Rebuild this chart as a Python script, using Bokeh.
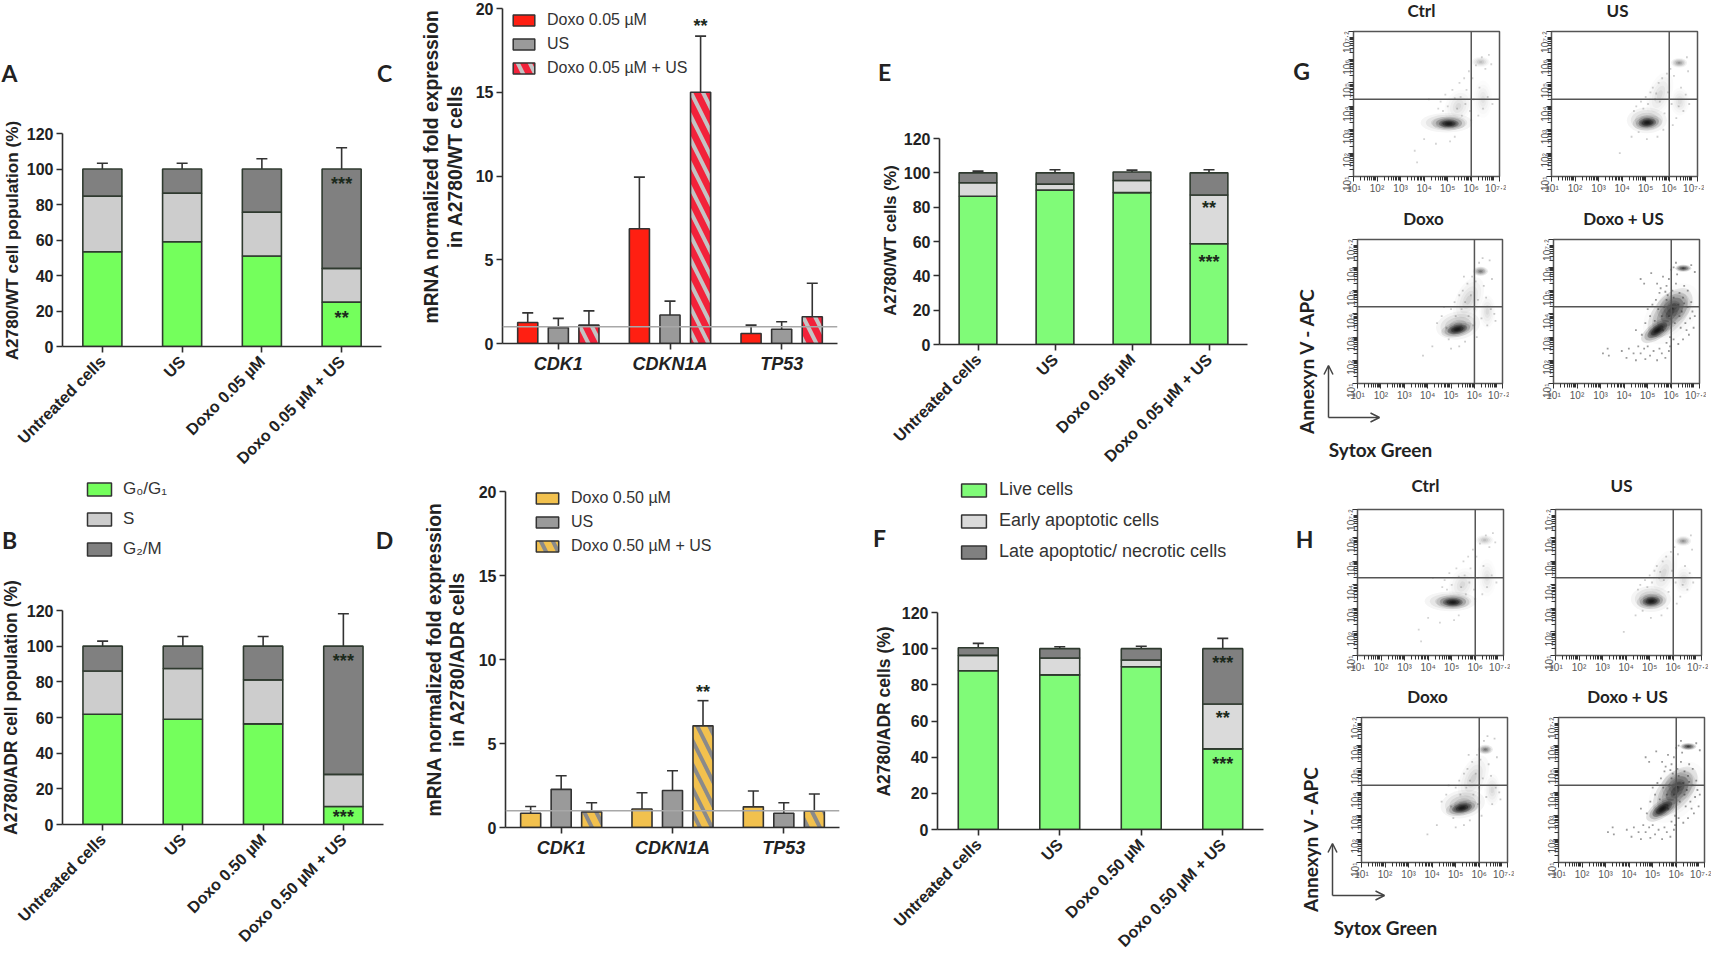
import math
import numpy as np
from bokeh.core.properties import value
from bokeh.plotting import figure
from bokeh.layouts import column
from bokeh.models import (ColumnDataSource, Whisker, TeeHead, FixedTicker, Range1d, Legend, LegendItem,
                          Span, Arrow, OpenHead)
from bokeh.embed import file_html
from bokeh.resources import INLINE

# ------------------------------------------------------------------ data
TREAT_005 = ["Untreated cells", "US", "Doxo 0.05 µM", "Doxo 0.05 µM + US"]
TREAT_050 = ["Untreated cells", "US", "Doxo 0.50 µM", "Doxo 0.50 µM + US"]
GENES = ["CDK1", "CDKN1A", "TP53"]
PHASES = ["G₀/G₁", "S", "G₂/M"]
DEATH = ["Live cells", "Early apoptotic cells", "Late apoptotic/ necrotic cells"]

# stacked bars: segment heights, and the top of each error bar
A_g0 = [53.4, 59.0, 51.0, 25.0]
A_s = [31.3, 27.4, 24.7, 19.0]
A_g2 = [15.3, 13.6, 24.3, 56.0]
A_g0_err = [59.9, 68.2, 60.6, 29.9]
A_s_err = [87.8, 91.1, 83.2, 50.5]
A_g2_err = [103.2, 103.2, 105.8, 112.0]
A_stars = [(4, 93.4, "***"), (4, 17.9, "**")]

B_g0 = [61.8, 59.0, 56.4, 10.1]
B_s = [24.3, 28.5, 24.7, 18.0]
B_g2 = [13.9, 12.5, 18.9, 71.9]
B_g0_err = [71.2, 71.9, 63.7, 14.8]
B_s_err = [93.4, 93.4, 86.9, 32.4]
B_g2_err = [102.8, 105.4, 105.4, 118.2]
B_stars = [(4, 93.3, "***"), (4, 5.8, "***")]

E_live = [86.4, 89.9, 88.5, 58.7]
E_early = [7.8, 3.5, 7.0, 28.4]
E_late = [5.8, 6.6, 5.0, 12.9]
E_live_err = [94.5, 94.7, 92.4, 64.5]
E_early_err = [95.0, 96.9, 97.7, 91.2]
E_late_err = [101.0, 101.8, 101.6, 101.8]
E_stars = [(4, 81.5, "**"), (4, 50.0, "***")]

F_live = [87.8, 85.5, 90.0, 44.6]
F_early = [8.5, 9.3, 3.7, 24.8]
F_late = [4.2, 5.2, 6.3, 30.6]
F_live_err = [97.0, 91.7, 94.3, 50.6]
F_early_err = [97.8, 95.4, 94.3, 71.4]
F_late_err = [102.9, 101.1, 101.3, 105.7]
F_stars = [(4, 93.7, "***"), (4, 63.2, "**"), (4, 38.1, "***")]

# mRNA grouped bars
BAR_OFFSET = 0.274
C_labels = ["Doxo 0.05 µM", "US", "Doxo 0.05 µM + US"]
C_doxo = [1.25, 6.85, 0.6]
C_us = [0.95, 1.7, 0.85]
C_combo = [1.1, 15.0, 1.6]
C_doxo_err = [1.83, 9.93, 1.1]
C_us_err = [1.5, 2.53, 1.3]
C_combo_err = [1.95, 18.35, 3.6]
C_stars = [(2 + BAR_OFFSET, 19.15, "**")]

D_labels = ["Doxo 0.50 µM", "US", "Doxo 0.50 µM + US"]
D_doxo = [0.85, 1.1, 1.23]
D_us = [2.27, 2.2, 0.85]
D_combo = [0.93, 6.05, 0.97]
D_doxo_err = [1.25, 2.07, 2.17]
D_us_err = [3.08, 3.38, 1.47]
D_combo_err = [1.47, 7.55, 1.99]
D_stars = [(2 + BAR_OFFSET, 8.23, "**")]

# flow cytometry: density patches (x, y, half-width, half-height, angle deg, strength) in log10 units
BLOB_CTRL = [(4.95, 3.3, 1.1, 0.42, 0, .3), (5.05, 3.27, 0.7, 0.3, 0, .7), (5.05, 3.25, 0.42, 0.17, 0, .95),
             (5.45, 4.0, 0.55, 0.75, -25, .12), (6.4, 5.9, 0.38, 0.22, 0, .22), (6.5, 4.3, 0.4, 0.8, 0, .08)]
BLOB_US = [(5.05, 3.4, 0.85, 0.55, 0, .3), (5.07, 3.3, 0.62, 0.32, 5, .7), (5.07, 3.3, 0.38, 0.19, 5, .95),
           (5.6, 4.5, 0.5, 1.0, -20, .12), (6.42, 5.86, 0.34, 0.2, 0, .4), (6.45, 4.2, 0.4, 0.6, 0, .1)]
BLOB_DOXO = [(5.3, 3.5, 0.95, 0.6, 10, .3), (5.27, 3.33, 0.7, 0.32, 12, .75), (5.27, 3.33, 0.44, 0.2, 12, .95),
             (5.75, 4.6, 0.55, 1.05, -25, .15), (6.26, 5.83, 0.32, 0.2, 0, .55), (6.55, 4.1, 0.35, 0.7, 0, .12)]
BLOB_COMBO = [(5.95, 4.05, 1.25, 0.68, 50, .55), (6.1, 4.3, 0.75, 0.65, 30, .45), (5.41, 3.29, 0.8, 0.36, 35, .85),
              (5.41, 3.29, 0.5, 0.22, 35, .95), (6.51, 5.96, 0.34, 0.15, 0, .95), (6.0, 4.0, 1.5, 0.95, 50, .12)]

DOT_CTRL_X = [3.6, 4.0, 4.2, 4.5, 4.6, 4.7, 4.9, 5.0, 5.2, 5.3, 5.4, 5.5, 5.55, 5.7, 5.75, 5.8, 5.9, 5.95, 6.05, 6.1, 6.2, 6.3,
              6.35, 6.45, 6.5, 6.6, 6.7, 6.75, 6.85, 6.9, 5.3, 5.1, 4.8, 3.7, 5.6, 6.0]
DOT_CTRL_Y = [2.1, 2.6, 4.3, 2.4, 3.9, 4.2, 4.5, 4.0, 4.7, 4.35, 3.9, 5.0, 4.4, 5.2, 4.1, 4.7, 5.5, 3.8, 5.2, 4.3, 5.75, 3.6,
              4.8, 6.1, 3.9, 5.6, 4.4, 6.2, 5.8, 4.1, 2.7, 2.5, 3.8, 1.6, 3.6, 3.4]
DOT_US_X = [3.9, 4.4, 4.5, 4.6, 4.8, 4.9, 5.0, 5.1, 5.2, 5.3, 5.4, 5.45, 5.55, 5.6, 5.7, 5.8, 5.9, 5.95, 6.05, 6.1, 6.2, 6.3,
            6.4, 6.5, 6.6, 6.7, 6.75, 6.8, 6.85, 5.5, 5.05, 4.7, 6.15, 5.75]
DOT_US_Y = [2.0, 2.7, 3.8, 4.0, 4.2, 3.9, 4.4, 4.1, 4.6, 4.8, 4.3, 4.55, 5.0, 4.2, 5.2, 3.7, 5.4, 4.6, 5.6, 4.1, 5.3, 3.5,
            4.0, 4.8, 3.8, 4.5, 6.1, 5.5, 4.1, 2.7, 2.6, 2.9, 3.2, 3.0]
DOT_DOXO_X = [3.8, 4.2, 4.4, 4.6, 4.7, 4.9, 5.0, 5.15, 5.2, 5.35, 5.45, 5.5, 5.6, 5.7, 5.75, 5.85, 5.9, 6.0, 6.05, 6.15, 6.2, 6.3,
              6.4, 6.5, 6.55, 6.65, 6.7, 6.75, 6.85, 6.9, 5.35, 5.6, 6.1, 5.0, 4.8, 5.95, 5.55, 6.35]
DOT_DOXO_Y = [2.2, 2.6, 3.6, 3.9, 4.3, 2.9, 4.2, 4.5, 3.9, 4.8, 4.2, 5.0, 4.5, 5.3, 3.9, 4.8, 5.6, 4.2, 5.4, 4.6, 6.2, 3.8,
              5.2, 4.7, 3.5, 6.3, 4.2, 5.5, 4.0, 3.7, 2.6, 2.8, 3.0, 2.5, 3.4, 3.5, 5.6, 6.4]
DOT_COMBO_X = [3.1, 3.3, 3.35, 3.9, 4.1, 4.2, 4.4, 4.5, 4.6, 4.7, 4.85, 4.9, 5.0, 5.1, 5.25, 5.4, 5.5, 5.6, 5.75, 5.9,
               4.75, 4.5, 4.9, 5.1, 5.0, 5.2, 5.35, 5.5, 5.4, 4.7, 4.85, 5.15, 5.65, 5.8, 5.9, 6.05, 6.2, 6.35, 6.5, 6.7,
               6.55, 6.85, 6.9, 7.0, 6.95, 6.75, 6.5, 6.3, 6.1, 5.95, 5.8, 6.6, 6.8, 6.7, 6.3, 6.1, 5.8, 5.7, 5.6, 5.9,
               6.15, 6.4, 6.45, 5.55, 6.0, 6.2, 6.85, 7.0, 6.1, 5.3, 5.45, 5.75, 6.25, 6.55, 6.05, 5.85, 6.65, 6.35, 5.65, 5.95]
DOT_COMBO_Y = [2.3, 2.5, 2.2, 2.4, 2.1, 2.5, 2.3, 2.0, 2.6, 2.3, 2.5, 2.05, 2.6, 2.2, 2.4, 2.0, 2.5, 2.3, 2.1, 2.4,
               3.1, 3.3, 3.6, 3.9, 4.2, 4.4, 4.6, 4.9, 5.3, 5.5, 5.3, 5.75, 5.6, 5.2, 5.5, 5.0, 5.3, 4.9, 4.7, 5.0,
               5.2, 4.5, 4.1, 3.9, 3.4, 3.1, 2.9, 2.7, 2.9, 3.0, 2.75, 3.6, 3.8, 4.3, 4.4, 4.7, 4.6, 4.3, 3.9, 3.9,
               3.6, 3.4, 4.1, 5.1, 5.9, 6.2, 6.1, 5.8, 6.0, 3.7, 4.2, 4.95, 5.7, 4.45, 4.25, 4.8, 3.3, 3.9, 3.3, 2.6]

FLOW_TICKS = [1, 2, 3, 4, 5, 6, 7.2]
FLOW_TICK_LABELS = ["10¹", "10²", "10³", "10⁴", "10⁵", "10⁶", "10⁷·²"]
FLOW_GATE_X = 6.0
FLOW_GATE_Y = 4.3

# ------------------------------------------------------------------ style
INK = "#2e2e2e"
GREEN = "#74ff5c"
GREEN2 = "#80fb78"
LIGHT = "#cdcdcd"
LIGHT2 = "#dadada"
DARK = "#808080"
RED = "#ff1f12"
RED2 = "#f2223a"
YEL = "#f2c14e"
GREY = "#9a9a9a"
HATCH_RED = "#c4c4c4"
HATCH_YEL = "#8a8a8a"
FONT = "Liberation Sans"
HEAD = "Lato"
ML, MR = 62, 7   # a bokeh column shares its children's side borders, so all figures use the same
figs = []


def make_fig(l, t, r, b, xr, yr, mt=10, mb=26):
    w, h = round(r - l), round(b - t)
    L, T = round(l), round(t)
    return figure(width=w + ML + MR, height=h + mt + mb, x_range=Range1d(*xr), y_range=Range1d(*yr),
                  min_border_left=ML, min_border_right=MR, min_border_top=mt, min_border_bottom=mb,
                  toolbar_location=None, output_backend="svg", background_fill_color=None,
                  border_fill_color=None, outline_line_color=None,
                  styles={"position": "absolute", "left": f"{L - ML}px", "top": f"{T - mt}px"})


def style_axes(p, ticks_y, xticks, xlabels, orient=None, xfont="16.2px", xstyle="bold"):
    p.grid.visible = False
    for ax in (p.xaxis[0], p.yaxis[0]):
        ax.axis_line_color = INK
        ax.axis_line_width = 1.6
        ax.major_tick_line_color = INK
        ax.major_tick_line_width = 1.6
        ax.major_tick_in = 0
        ax.major_tick_out = 6
        ax.minor_tick_line_color = None
        ax.major_label_text_color = "#222222"
        ax.major_label_text_font = FONT
        ax.major_label_text_font_style = "bold"
    p.yaxis[0].ticker = FixedTicker(ticks=ticks_y)
    p.yaxis[0].major_label_text_font_size = "16px"
    p.yaxis[0].major_label_standoff = 3
    p.xaxis[0].ticker = FixedTicker(ticks=xticks)
    p.xaxis[0].major_label_overrides = {k: v for k, v in zip(xticks, xlabels)}
    p.xaxis[0].major_label_text_font_size = xfont
    p.xaxis[0].major_label_text_font_style = xstyle
    p.xaxis[0].major_label_standoff = 6
    if orient:
        p.xaxis[0].major_label_orientation = orient


def whisk(p, x, low, top):
    src = ColumnDataSource(dict(x=list(x), low=list(low), top=list(top)))
    p.add_layout(Whisker(source=src, base="x", lower="low", upper="top", dimension="height",
                         line_color="#333333", line_width=1.6, lower_head=None,
                         upper_head=TeeHead(size=11, line_color="#333333", line_width=1.6)))


def stars(p, items, size="18px"):
    p.text(x=[i[0] for i in items], y=[i[1] for i in items], text=[i[2] for i in items],
           text_align="center", text_baseline="middle", text_font=value(FONT), text_font_style="bold",
           text_font_size=size, text_color="#1c2a1c", y_offset=3)


def stacked(frame, treat, segs, errs, colors, star_items, width=0.49, mt=10):
    l, t, r, b = frame
    p = make_fig(l, t, r, b, (0.5, 4.5), (0, 120), mt=mt, mb=135)
    style_axes(p, [0, 20, 40, 60, 80, 100, 120], [1, 2, 3, 4], treat, orient=math.pi / 4)
    xs = [1, 2, 3, 4]
    base = np.zeros(4)
    for seg, col in zip(segs, colors):
        top = base + np.array(seg)
        p.vbar(x=xs, bottom=base.tolist(), top=top.tolist(), width=width, fill_color=col,
               line_color="#2f3a2f", line_width=1.6)
        base = top
    base = np.zeros(4)
    for seg, err in zip(segs, errs):
        top = base + np.array(seg)
        whisk(p, xs, top, err)
        base = top
    stars(p, star_items)
    figs.append(p)


def grouped(frame, series, errs, colors, hatch, star_items):
    l, t, r, b = frame
    p = make_fig(l, t, r, b, (0.5, 3.5), (0, 20), mt=20, mb=40)
    style_axes(p, [0, 5, 10, 15, 20], [1, 2, 3], GENES, xfont="18px", xstyle="bold italic")
    p.xaxis[0].major_label_standoff = 4
    p.add_layout(Span(location=1, dimension="width", line_color="#a8a8a8", line_width=1.4))
    for k, (vals, err, col) in enumerate(zip(series, errs, colors)):
        xs = [g + (k - 1) * BAR_OFFSET for g in (1, 2, 3)]
        kw = {}
        if k == 2:
            kw = dict(hatch_pattern="left_diagonal_line", hatch_color=hatch, hatch_weight=4, hatch_scale=24)
        p.vbar(x=xs, bottom=0, top=vals, width=0.18, fill_color=col, line_color="#333333", line_width=1.6, **kw)
        whisk(p, xs, vals, err)
    stars(p, star_items)
    figs.append(p)


def flow(frame, blobs, dx, dy, dot_alpha):
    l, t, r, b = frame
    p = make_fig(l, t, r, b, (1, 7.2), (1, 7.2), mt=20, mb=28)
    p.outline_line_color = "#555555"
    p.outline_line_width = 1.5
    p.grid.visible = False
    minor = [k + math.log10(m) for k in range(1, 8) for m in range(2, 10) if k + math.log10(m) < 7.2]
    for ax in (p.xaxis[0], p.yaxis[0]):
        ax.ticker = FixedTicker(ticks=FLOW_TICKS, minor_ticks=minor)
        ax.major_label_overrides = dict(zip(FLOW_TICKS, FLOW_TICK_LABELS))
        ax.major_label_text_font_size = "10px"
        ax.major_label_text_font = FONT
        ax.major_label_text_color = "#555555"
        ax.major_label_standoff = 1
        ax.axis_line_color = "#555555"
        ax.major_tick_line_color = "#333333"
        ax.minor_tick_line_color = "#333333"
        ax.major_tick_in = ax.minor_tick_in = 0
        ax.major_tick_out = 5
        ax.minor_tick_out = 4
    p.yaxis[0].major_label_orientation = math.pi / 2
    for (x, y, rx, ry, ang, s) in blobs:
        for f, a in ((1.0, .35), (.8, .5), (.6, .65), (.4, .8), (.2, 1.0)):
            p.ellipse(x=x, y=y, width=2 * rx * f, height=2 * ry * f, angle=math.radians(ang),
                      fill_color="#111111", fill_alpha=s * a * 0.42, line_color=None)
    p.scatter(x=dx, y=dy, size=1.8, marker="square", fill_color="#222222", fill_alpha=dot_alpha, line_color=None)
    p.add_layout(Span(location=FLOW_GATE_X, dimension="height", line_color="#555555", line_width=1.5))
    p.add_layout(Span(location=FLOW_GATE_Y, dimension="width", line_color="#555555", line_width=1.5))
    figs.append(p)


# ------------------------------------------------------------------ panels
cell3 = [GREEN, LIGHT, DARK]
dead3 = [GREEN2, LIGHT2, DARK]
stacked((62, 133, 381, 346), TREAT_005, [A_g0, A_s, A_g2], [A_g0_err, A_s_err, A_g2_err], cell3, A_stars)
stacked((62, 610, 383, 824), TREAT_050, [B_g0, B_s, B_g2], [B_g0_err, B_s_err, B_g2_err], cell3, B_stars)
stacked((939, 138, 1247, 344), TREAT_005, [E_live, E_early, E_late], [E_live_err, E_early_err, E_late_err],
        dead3, E_stars)
stacked((937, 612, 1263, 829), TREAT_050, [F_live, F_early, F_late], [F_live_err, F_early_err, F_late_err],
        dead3, F_stars)
grouped((502, 8, 837, 343), [C_doxo, C_us, C_combo], [C_doxo_err, C_us_err, C_combo_err],
        [RED, GREY, RED2], HATCH_RED, C_stars)
grouped((505, 491, 839, 827), [D_doxo, D_us, D_combo], [D_doxo_err, D_us_err, D_combo_err],
        [YEL, GREY, YEL], HATCH_YEL, D_stars)

flow((1353, 31, 1499, 176), BLOB_CTRL, DOT_CTRL_X, DOT_CTRL_Y, .2)
flow((1551, 31, 1697, 176), BLOB_US, DOT_US_X, DOT_US_Y, .22)
flow((1357, 239, 1502, 383), BLOB_DOXO, DOT_DOXO_X, DOT_DOXO_Y, .24)
flow((1553, 239, 1699, 383), BLOB_COMBO, DOT_COMBO_X, DOT_COMBO_Y, .45)
flow((1357, 509, 1503, 655), BLOB_CTRL, DOT_CTRL_X, DOT_CTRL_Y, .2)
flow((1555, 509, 1701, 655), BLOB_US, DOT_US_X, DOT_US_Y, .22)
flow((1361, 717, 1507, 862), BLOB_DOXO, DOT_DOXO_X, DOT_DOXO_Y, .24)
flow((1558, 717, 1704, 862), BLOB_COMBO, DOT_COMBO_X, DOT_COMBO_Y, .45)

# ------------------------------------------------------------------ page-level texts and legends on transparent overlays
PAGE_W, PAGE_H = 1711, 954


def overlay(x0, x1):
    o = figure(width=x1 - x0 + ML + MR, height=PAGE_H, x_range=Range1d(x0, x1), y_range=Range1d(PAGE_H, 0),
               min_border_left=ML, min_border_right=MR, min_border_top=0, min_border_bottom=0,
               toolbar_location=None, output_backend="svg", background_fill_color=None, border_fill_color=None,
               outline_line_color=None, x_axis_location=None, y_axis_location=None,
               styles={"position": "absolute", "left": f"{x0 - ML}px", "top": "0px"})
    o.grid.visible = False
    return o


ov = overlay(0, PAGE_W - ML - MR)
ov2 = overlay(1280, 1704)


def put(x, y, s, size, font=FONT, style="bold", angle=0.0, align="center", color="#222222"):
    target = ov2 if x >= 1290 else ov
    target.text(x=[x], y=[y], text=[s], text_font=value(font), text_font_style=style, text_font_size=size, angle=angle,
                text_align=align, text_baseline="middle", text_color=color)


def legend(names, styles_, left, last_center, pitch, gw, gh, size, standoff):
    row = round(1.15 * size)
    rends = [ov.vbar(x=[float("nan")], top=[float("nan")], width=1, line_color="#333333", line_width=1.5, **st)
             for st in styles_]
    ov.add_layout(Legend(items=[LegendItem(label=n, renderers=[r]) for n, r in zip(names, rends)],
                         location=(left, round(PAGE_H - last_center - row / 2 - 2)),
                         border_line_color=None, background_fill_color=None, padding=0, margin=0,
                         glyph_width=gw, glyph_height=gh, label_height=gh, spacing=pitch - row,
                         label_standoff=standoff, label_text_font=FONT, label_text_font_size=f"{size}px",
                         label_text_color="#333333", label_text_baseline="middle"))


hatch_kw = dict(hatch_pattern="left_diagonal_line", hatch_weight=4, hatch_scale=24)
legend(C_labels, [dict(fill_color=RED), dict(fill_color=GREY), dict(fill_color=RED2, hatch_color=HATCH_RED, **hatch_kw)],
       510, 66, 24, 27, 14, 16, 10)
legend(D_labels, [dict(fill_color=YEL), dict(fill_color=GREY), dict(fill_color=YEL, hatch_color=HATCH_YEL, **hatch_kw)],
       533, 544, 24, 28, 14, 16, 10)
legend(PHASES, [dict(fill_color=c) for c in cell3], 84, 547, 30, 30, 16, 17, 9)
legend(DEATH, [dict(fill_color=c) for c in dead3], 958, 549, 31, 31, 16, 18, 10)

for s, x, y in (("A", 9, 72), ("C", 384, 72), ("B", 9, 539), ("D", 384, 539), ("E", 884, 71), ("F", 879, 537),
                ("G", 1301, 70), ("H", 1304, 538)):
    put(x, y, s, "23px", font=HEAD)

V = math.pi / 2
put(11, 240, "A2780/WT cell population (%)", "17.2px", angle=V)
put(10, 707, "A2780/ADR cell population (%)", "17.5px", angle=V)
put(889, 240, "A2780/WT cells (%)", "16.5px", angle=V)
put(883, 711, "A2780/ADR cells (%)", "17.5px", angle=V)
put(431, 166, "mRNA normalized fold expression", "19.3px", angle=V)
put(455, 166, "in A2780/WT cells", "19.3px", angle=V)
put(434, 659, "mRNA normalized fold expression", "19.3px", angle=V)
put(457, 659, "in A2780/ADR cells", "19.3px", angle=V)

for s, x, y in (("Ctrl", 1421, 10), ("US", 1617, 10), ("Doxo", 1423, 218), ("Doxo + US", 1623, 218),
                ("Ctrl", 1425, 485), ("US", 1621, 485), ("Doxo", 1427, 696), ("Doxo + US", 1627, 696)):
    put(x, y, s, "17px", font=HEAD)
put(1306, 360, "Annexyn V - APC", "19px", font=HEAD, angle=V)
put(1310, 838, "Annexyn V - APC", "19px", font=HEAD, angle=V)
put(1380, 449, "Sytox Green", "19px", font=HEAD)
put(1385, 927, "Sytox Green", "19px", font=HEAD)
for ox, oy, tx, ty in ((1328, 417, 1379, 365), (1332, 895, 1384, 843)):
    for ex, ey in ((tx, oy), (ox, ty)):
        ov2.add_layout(Arrow(end=OpenHead(size=9, line_color="#444444", line_width=1.5), x_start=ox, y_start=oy,
                             x_end=ex, y_end=ey, line_color="#444444", line_width=1.5))

root = column(*figs, ov, ov2, width=PAGE_W, height=PAGE_H, styles={"position": "relative"})
open("out.html", "w").write(file_html(root, INLINE))
